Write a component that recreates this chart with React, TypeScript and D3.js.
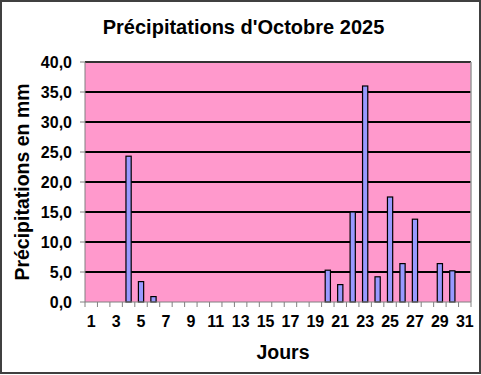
import React from "react";
import * as d3 from "d3";

const days: number[] = d3.range(1, 32);
const rain: (number | null)[] = [
  null, null, null, 24.3, 3.4, 0.9, null, null, null, null,
  null, null, null, null, null, null, null, null, null, 5.3,
  2.9, 15.0, 36.0, 4.2, 17.5, 6.4, 13.8, null, 6.4, 5.2, null,
];
const yTicks: number[] = [0, 5, 10, 15, 20, 25, 30, 35, 40];
const xLabels: number[] = days.filter((d) => d % 2 === 1);
const title = "Précipitations d'Octobre 2025";
const yTitle = "Précipitations en mm";
const xTitle = "Jours";

const W = 481;
const H = 375;
const margin = { left: 85, right: 10, top: 62, bottom: 73 };
const FONT = "'Liberation Sans', Arial, sans-serif";

export default function App() {
  const x = d3
    .scaleBand<number>()
    .domain(days)
    .range([margin.left, W - margin.right])
    .paddingInner(0)
    .paddingOuter(0);
  const y = d3.scaleLinear().domain([0, 40]).range([H - margin.bottom, margin.top]);
  const bw = x.bandwidth();
  const barW = bw * 0.42;
  const fmt = (v: number) => v.toFixed(1).replace(".", ",");
  const x0 = margin.left;
  const x1 = W - margin.right;
  const yb = y(0);
  const yt = y(40);

  return (
    <div style={{ position: "fixed", left: 0, top: 0 }}>
      <svg width={W} height={H} style={{ display: "block" }}>
        <rect x={0} y={0} width={W} height={H} fill="#fff" />
        <rect x={1} y={1} width={W - 2} height={H - 3} fill="none" stroke="#404040" strokeWidth={2} />
        <text x={243.5} y={34} textAnchor="middle" fontFamily={FONT} fontWeight="bold" fontSize={20} fill="#000">
          {title}
        </text>
        <rect x={x0} y={yt} width={x1 - x0} height={yb - yt} fill="#FF99CC" />
        {yTicks.filter((t) => t > 0).map((t) => (
          <line key={t} x1={x0} x2={x1} y1={y(t)} y2={y(t)} stroke={t === 40 ? "#333" : "#000"} strokeWidth={2} />
        ))}
        <line x1={x1} x2={x1} y1={yt} y2={yb} stroke="#999" strokeWidth={1.5} />
        {days.map((d, i) => {
          const v = rain[i];
          if (v == null) return null;
          const cx = (x(d) as number) + bw / 2;
          return (
            <rect key={d} x={cx - barW / 2} y={y(v)} width={barW} height={yb - y(v)} fill="#9999FF" stroke="#000" strokeWidth={1.2} />
          );
        })}
        {/* y axis */}
        <line x1={x0} x2={x0} y1={yt} y2={yb} stroke="#808080" strokeWidth={1} />
        {yTicks.map((t) => (
          <g key={t}>
            <line x1={x0 - 5} x2={x0} y1={y(t)} y2={y(t)} stroke="#808080" strokeWidth={1} />
            <text x={x0 - 13} y={y(t) + 5.5} textAnchor="end" fontFamily={FONT} fontWeight="bold" fontSize={16} fill="#000">
              {fmt(t)}
            </text>
          </g>
        ))}
        {/* x axis */}
        <line x1={x0} x2={x1} y1={yb} y2={yb} stroke="#808080" strokeWidth={1} />
        {days.concat([32]).map((d) => {
          const xx = d === 32 ? x1 : (x(d) as number);
          return <line key={d} x1={xx} x2={xx} y1={yb} y2={yb + 5} stroke="#808080" strokeWidth={1} />;
        })}
        {xLabels.map((d) => (
          <text key={d} x={(x(d) as number) + bw / 2} y={yb + 25} textAnchor="middle" fontFamily={FONT} fontWeight="bold" fontSize={16} fill="#000">
            {d}
          </text>
        ))}
        <text x={283} y={359} textAnchor="middle" fontFamily={FONT} fontWeight="bold" fontSize={19.5} fill="#000">
          {xTitle}
        </text>
        <text
          transform={`translate(29, ${(yt + yb) / 2}) rotate(-90)`}
          textAnchor="middle"
          fontFamily={FONT}
          fontWeight="bold"
          fontSize={19.5}
          fill="#000"
        >
          {yTitle}
        </text>
      </svg>
    </div>
  );
}
